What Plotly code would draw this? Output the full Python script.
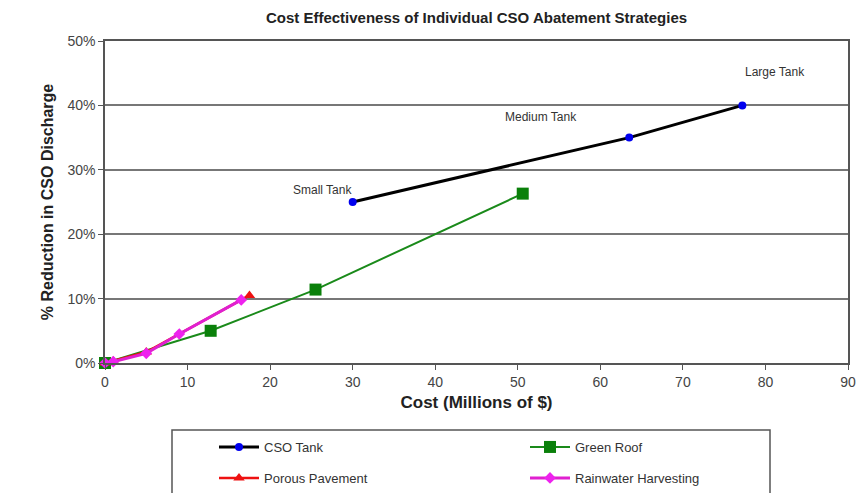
import plotly.graph_objects as go

# Data (cost in millions of $, reduction as fraction)
cso_cost = [30.0, 63.5, 77.2]
cso_red = [0.25, 0.35, 0.40]
cso_labels = ["Small Tank", "Medium Tank", "Large Tank"]

green_cost = [0.0, 12.8, 25.5, 50.6]
green_red = [0.0, 0.05, 0.114, 0.263]

porous_cost = [0.0, 1.0, 5.0, 17.5]
porous_red = [0.0, 0.003, 0.017, 0.105]

rain_cost = [0.0, 1.0, 5.0, 9.0, 16.5]
rain_red = [0.0, 0.002, 0.015, 0.045, 0.098]

x_ticks = [0, 10, 20, 30, 40, 50, 60, 70, 80, 90]
y_ticks = [0.0, 0.1, 0.2, 0.3, 0.4, 0.5]

FONT = "Liberation Sans, Arial, sans-serif"
# the page body adds an 8px margin, so the figure is shifted 8px
W, H = 857, 485
L, R, T, B = 97, 17, 33, H - 355
PW, PH = W - L - R, H - T - B

fig = go.Figure()
fig.add_trace(go.Scatter(x=cso_cost, y=cso_red, mode="lines+markers", name="CSO Tank", legend="legend",
                         line=dict(color="black", width=3),
                         marker=dict(color="#0000ee", size=8, symbol="circle"), cliponaxis=False))
fig.add_trace(go.Scatter(x=green_cost, y=green_red, mode="lines+markers", name="Green Roof", legend="legend",
                         line=dict(color="#1a8a1a", width=2),
                         marker=dict(color="#0a800a", size=12, symbol="square"), cliponaxis=False))
fig.add_trace(go.Scatter(x=porous_cost, y=porous_red, mode="lines+markers", name="Porous Pavement", legend="legend2",
                         line=dict(color="#ee1111", width=2.5),
                         marker=dict(color="#ee1111", size=10, symbol="triangle-up"), cliponaxis=False))
fig.add_trace(go.Scatter(x=rain_cost, y=rain_red, mode="lines+markers", name="Rainwater Harvesting", legend="legend2",
                         line=dict(color="#e020d0", width=3),
                         marker=dict(color="#ee22ee", size=9, symbol="diamond"), cliponaxis=False))

offsets = [(-30, 12), (-88, 21), (33, 33)]
for xv, yv, lab, (dx, dy) in zip(cso_cost, cso_red, cso_labels, offsets):
    fig.add_annotation(x=xv, y=yv, text=lab, showarrow=False, xshift=dx, yshift=dy,
                       font=dict(family=FONT, size=12, color="#333333"))

# legend box
fig.add_shape(type="rect", xref="paper", yref="paper",
              x0=(164 - L) / PW, x1=(762 - L) / PW,
              y0=(T + PH - 495) / PH, y1=(T + PH - 422) / PH,
              line=dict(color="#555555", width=1.5),
              fillcolor="rgba(0,0,0,0)", layer="below")

leg_common = dict(orientation="h", xref="container", yref="container",
                  x=206 / W, xanchor="left", yanchor="top",
                  entrywidth=256, entrywidthmode="pixels", bgcolor="rgba(0,0,0,0)",
                  font=dict(family=FONT, size=13, color="#333333"), itemwidth=40)

fig.update_layout(
    width=W, height=H,
    margin=dict(l=L, r=R, t=T, b=B, autoexpand=False),
    paper_bgcolor="white", plot_bgcolor="white",
    font=dict(family=FONT, color="#333333"),
    title=dict(text="<b>Cost Effectiveness of Individual CSO Abatement Strategies</b>",
               x=(L + PW / 2) / W, xanchor="center", y=1 - 10 / H, yanchor="middle",
               font=dict(family=FONT, size=15, color="#222222")),
    xaxis=dict(range=[0, 90], tickvals=x_ticks, showgrid=False, zeroline=False, automargin=False,
               showline=True, mirror=True, linecolor="#555555", linewidth=1.5,
               ticks="outside", ticklen=5, tickcolor="#555555", ticklabeloverflow="allow",
               tickfont=dict(family=FONT, size=14, color="#444444"),
               title=dict(text="<b>Cost (Millions of $)</b>", standoff=8,
                          font=dict(family=FONT, size=17, color="#222222"))),
    yaxis=dict(range=[0, 0.5], tickvals=y_ticks, tickformat=".0%", showgrid=True, automargin=False,
               gridcolor="#777777", gridwidth=1.5, zeroline=False,
               showline=True, mirror=True, linecolor="#555555", linewidth=1.5,
               ticks="outside", ticklen=5, tickcolor="#555555",
               tickfont=dict(family=FONT, size=14, color="#444444"),
               title=dict(text="<b>% Reduction in CSO Discharge</b>", standoff=10,
                          font=dict(family=FONT, size=16, color="#222222"))),
    legend=dict(y=1 - 424 / H, **leg_common),
    legend2=dict(y=1 - 455 / H, **leg_common),
)

fig.write_html("out.html")
